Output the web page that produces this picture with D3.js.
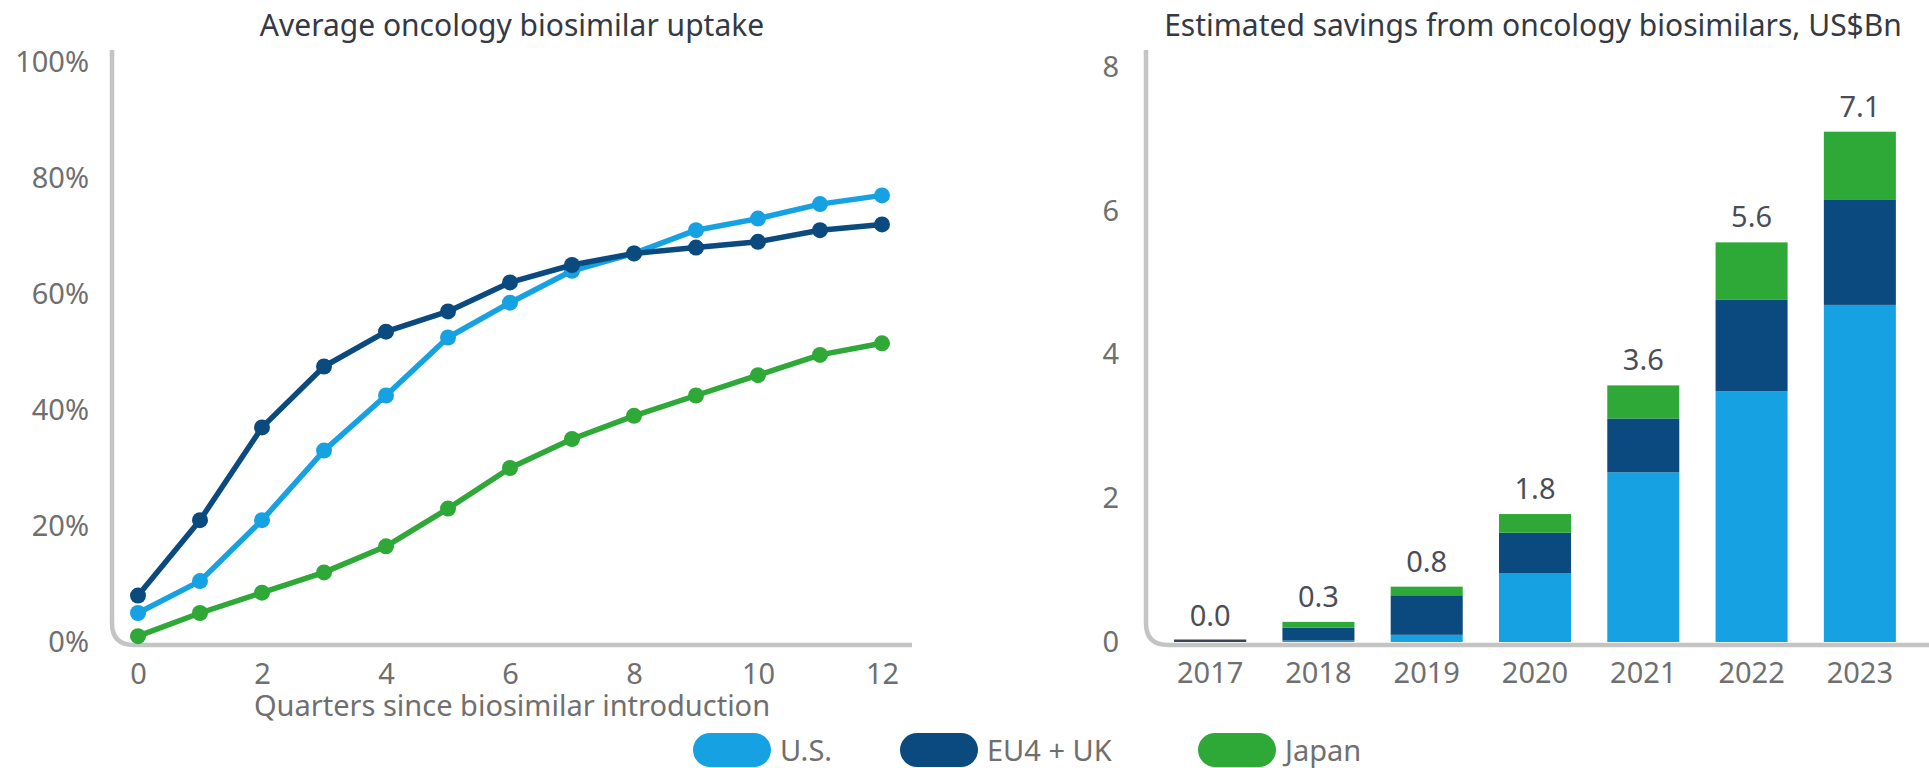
<!DOCTYPE html>
<html>
<head>
<meta charset="utf-8">
<script src="https://cdn.jsdelivr.net/npm/d3@7"></script>
<style>
  html, body { margin: 0; padding: 0; background: #ffffff; }
  svg { display: block; font-family: "Noto Sans", "Open Sans", sans-serif; }
</style>
</head>
<body>
<svg id="chart" width="1929" height="768"></svg>
<script>
// Uptake by quarter since launch (% share)
const quarters = [0, 1, 2, 3, 4, 5, 6, 7, 8, 9, 10, 11, 12];
const uptakeUS = [5, 10.5, 21, 33, 42.5, 52.5, 58.5, 64, 67, 71, 73, 75.5, 77];
const uptakeEU = [8, 21, 37, 47.5, 53.5, 57, 62, 65, 67, 68, 69, 71, 72];
const uptakeJapan = [1, 5, 8.5, 12, 16.5, 23, 30, 35, 39, 42.5, 46, 49.5, 51.5];
const uptakeTicks = [0, 20, 40, 60, 80, 100];
const quarterTicks = [0, 2, 4, 6, 8, 10, 12];

// Savings by year, US$Bn
const years = ["2017", "2018", "2019", "2020", "2021", "2022", "2023"];
const savingsUS = [0, 0.02, 0.1, 0.96, 2.36, 3.49, 4.69];
const savingsEU = [0.02, 0.18, 0.55, 0.56, 0.75, 1.27, 1.46];
const savingsJapan = [0, 0.08, 0.12, 0.26, 0.46, 0.80, 0.95];
const savingsTicks = [0, 2, 4, 6, 8];

const seriesNames = ["U.S.", "EU4 + UK", "Japan"];
const colors = { "U.S.": "#16a2e2", "EU4 + UK": "#0b4a7f", "Japan": "#2ea836" };

const svg = d3.select("#chart");
const axisGray = "#c4c4c4";
const tickColor = "#6f6f6f";
const titleColor = "#343944";
const labelSize = 29;
const titleSize = 30;

// rounded L-shaped axis frame
function frame(x0, yTop, yBase, xEnd, r) {
  const p = d3.path();
  p.moveTo(x0, yTop);
  p.lineTo(x0, yBase - r);
  p.quadraticCurveTo(x0, yBase, x0 + r, yBase);
  p.lineTo(xEnd, yBase);
  return p.toString();
}

// ---------- Left: uptake lines ----------
const xL = d3.scaleLinear().domain([0, 12]).range([138, 882]);
const yL = d3.scaleLinear().domain([0, 100]).range([642, 62]);

svg.append("text")
  .attr("x", 512).attr("y", 36)
  .attr("text-anchor", "middle")
  .attr("font-size", titleSize).attr("fill", titleColor)
  .text("Average oncology biosimilar uptake");

svg.append("path")
  .attr("d", frame(112, 50, 645, 912, 22))
  .attr("fill", "none").attr("stroke", axisGray).attr("stroke-width", 4.5);

const gyL = svg.append("g").attr("transform", "translate(112,0)")
  .call(d3.axisLeft(yL).tickValues(uptakeTicks).tickSize(0).tickPadding(23)
    .tickFormat(d => d + "%"));
const gxL = svg.append("g").attr("transform", "translate(0,642)")
  .call(d3.axisBottom(xL).tickValues(quarterTicks).tickSize(0).tickPadding(21)
    .tickFormat(d3.format("d")));
[gyL, gxL].forEach(g => {
  g.select(".domain").remove();
  g.selectAll("text").attr("font-size", labelSize).attr("fill", tickColor)
    .attr("font-family", "Noto Sans, Open Sans, sans-serif");
});

svg.append("text")
  .attr("x", 512).attr("y", 716)
  .attr("text-anchor", "middle")
  .attr("font-size", labelSize).attr("fill", tickColor)
  .text("Quarters since biosimilar introduction");

const lineSeries = [
  { name: "Japan", values: uptakeJapan },
  { name: "U.S.", values: uptakeUS },
  { name: "EU4 + UK", values: uptakeEU }
];
const line = d3.line().x((d, i) => xL(quarters[i])).y(d => yL(d));
lineSeries.forEach(s => {
  const g = svg.append("g");
  g.append("path").datum(s.values)
    .attr("d", line).attr("fill", "none")
    .attr("stroke", colors[s.name]).attr("stroke-width", 5.5)
    .attr("stroke-linejoin", "round");
  g.selectAll("circle").data(s.values).join("circle")
    .attr("cx", (d, i) => xL(quarters[i])).attr("cy", d => yL(d))
    .attr("r", 8).attr("fill", colors[s.name]);
});

// ---------- Right: stacked savings bars ----------
const xR = d3.scaleBand().domain(years).range([1156, 1914])
  .paddingInner(0.335).paddingOuter(0.1675);
const yR = d3.scaleLinear().domain([0, 8]).range([642, 67]);

svg.append("text")
  .attr("x", 1533).attr("y", 36)
  .attr("text-anchor", "middle")
  .attr("font-size", titleSize).attr("fill", titleColor)
  .text("Estimated savings from oncology biosimilars, US$Bn");

svg.append("path")
  .attr("d", frame(1146, 50, 645, 1929, 22))
  .attr("fill", "none").attr("stroke", axisGray).attr("stroke-width", 4.5);

const gyR = svg.append("g").attr("transform", "translate(1146,0)")
  .call(d3.axisLeft(yR).tickValues(savingsTicks).tickSize(0).tickPadding(27)
    .tickFormat(d3.format("d")));
const gxR = svg.append("g").attr("transform", "translate(0,642)")
  .call(d3.axisBottom(xR).tickSize(0).tickPadding(20));
[gyR, gxR].forEach(g => {
  g.select(".domain").remove();
  g.selectAll("text").attr("font-size", labelSize).attr("fill", tickColor)
    .attr("font-family", "Noto Sans, Open Sans, sans-serif");
});

const table = years.map((y, i) => ({
  year: y, "U.S.": savingsUS[i], "EU4 + UK": savingsEU[i], "Japan": savingsJapan[i]
}));
const total = d => d["U.S."] + d["EU4 + UK"] + d["Japan"];
const stacked = d3.stack().keys(seriesNames)(table);

stacked.forEach(layer => {
  svg.append("g").attr("fill", colors[layer.key])
    .selectAll("rect").data(layer).join("rect")
    .attr("x", d => xR(d.data.year))
    .attr("width", xR.bandwidth())
    .attr("y", d => yR(d[1]))
    .attr("height", d => Math.max(0, yR(d[0]) - yR(d[1])));
});

// near-zero year: faint baseline mark
svg.append("g").selectAll("rect").data(table.filter(d => total(d) < 0.05))
  .join("rect")
  .attr("x", d => xR(d.year)).attr("width", xR.bandwidth())
  .attr("y", yR(0) - 2.5).attr("height", 2.5).attr("fill", "#3d4450");

svg.append("g").selectAll("text").data(table).join("text")
  .attr("x", d => xR(d.year) + xR.bandwidth() / 2)
  .attr("y", d => yR(total(d)) - 15)
  .attr("text-anchor", "middle")
  .attr("font-size", labelSize).attr("fill", "#4a4d57")
  .text(d => total(d).toFixed(1));

// ---------- Legend ----------
const legendItems = [
  { name: "U.S.", x: 693 },
  { name: "EU4 + UK", x: 900 },
  { name: "Japan", x: 1198 }
];
const lg = svg.append("g");
legendItems.forEach(item => {
  lg.append("rect")
    .attr("x", item.x).attr("y", 733).attr("width", 78).attr("height", 34)
    .attr("rx", 17).attr("fill", colors[item.name]);
  lg.append("text")
    .attr("x", item.x + 87).attr("y", 761)
    .attr("font-size", labelSize).attr("fill", tickColor)
    .text(item.name);
});
</script>
</body>
</html>
